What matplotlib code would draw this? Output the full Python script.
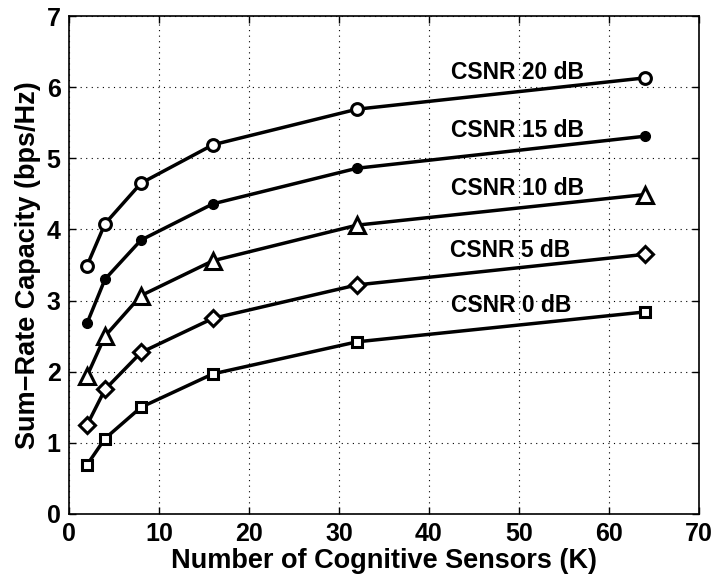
import matplotlib
matplotlib.use("Agg")
import matplotlib.pyplot as plt

K = [2, 4, 8, 16, 32, 64]
csnr0 = [0.69, 1.06, 1.50, 1.97, 2.42, 2.84]
csnr5 = [1.25, 1.75, 2.27, 2.75, 3.22, 3.65]
csnr10 = [1.94, 2.50, 3.07, 3.56, 4.06, 4.49]
csnr15 = [2.68, 3.30, 3.85, 4.36, 4.86, 5.31]
csnr20 = [3.49, 4.08, 4.65, 5.19, 5.69, 6.13]

labels = ["CSNR 20 dB", "CSNR 15 dB", "CSNR 10 dB", "CSNR 5 dB", "CSNR 0 dB"]
label_x = [42.5, 42.5, 42.5, 42.3, 42.5]
label_y = [6.20, 5.39, 4.58, 3.71, 2.93]

plt.rcParams['font.family'] = ['Liberation Sans', 'DejaVu Sans']
fig = plt.figure(figsize=(7.18, 5.84), dpi=100)
ax = fig.add_axes([0.0961, 0.1199, 0.8774, 0.8527])

lw = 2.5
ax.plot(K, csnr20, '-', color='k', lw=lw, marker='o', ms=8.5, mfc='white', mec='k', mew=2.2)
ax.plot(K, csnr15, '-', color='k', lw=lw, marker='o', ms=7, mfc='k', mec='k', mew=1)
ax.plot(K, csnr10, '-', color='k', lw=lw, marker='^', ms=11.5, mfc='white', mec='k', mew=2.2)
ax.plot(K, csnr5, '-', color='k', lw=lw, marker='D', ms=8, mfc='white', mec='k', mew=2.2)
ax.plot(K, csnr0, '-', color='k', lw=lw, marker='s', ms=7.5, mfc='white', mec='k', mew=2.2)

for t, x, y in zip(labels, label_x, label_y):
    ax.text(x, y, t, fontsize=16.5, fontweight='bold', ha='left', va='center')

ax.set_xlim(0, 70)
ax.set_ylim(0, 7)
ax.set_xticks(range(0, 71, 10))
ax.set_yticks(range(0, 8))
ax.grid(True, linestyle=(0, (1, 4)), color='k', linewidth=0.8)
ax.tick_params(direction='in', top=True, right=True, labelsize=18, width=1, length=5, pad=6)
for lab in ax.get_xticklabels() + ax.get_yticklabels():
    lab.set_fontweight('bold')
for s in ax.spines.values():
    s.set_linewidth(1.2)
ax.set_xlabel("Number of Cognitive Sensors (K)", fontsize=19.5, fontweight='bold', labelpad=1)
ax.set_ylabel("Sum\u2212Rate Capacity (bps/Hz)", fontsize=19.5, fontweight='bold', labelpad=4)

fig.savefig("out.png", dpi=100)
